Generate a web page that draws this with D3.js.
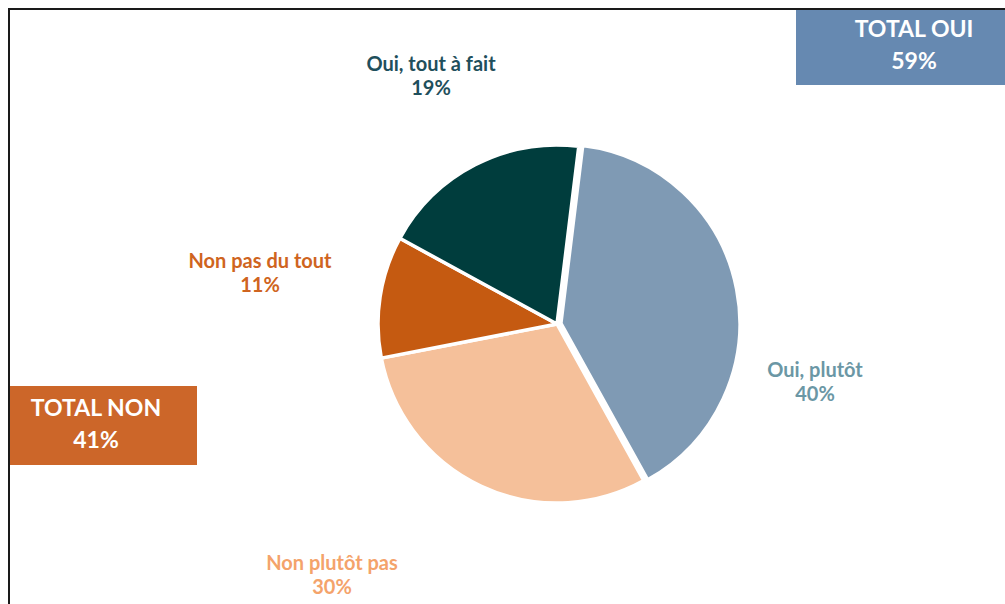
<!DOCTYPE html>
<html><head><meta charset="utf-8">
<script src="https://cdn.jsdelivr.net/npm/d3@7/dist/d3.min.js"></script>
<style>html,body{margin:0;padding:0;background:#fff;overflow:hidden}svg{display:block}</style>
</head><body>
<svg id="c" width="1005" height="604"></svg>
<script>
// ---- data ----
const categories = ["Oui, plutôt", "Non plutôt pas", "Non pas du tout", "Oui, tout à fait"];
const values = [40, 30, 11, 19];
const totalLabels = ["TOTAL OUI", "TOTAL NON"];
const totalValues = [59, 41];

// ---- styles / layout ----
const sliceColors = ["#7f9ab4", "#f5c09a", "#c55a11", "#003d3d"];
const labelColors = ["#6b97a5", "#f4a36b", "#cf6420", "#1f4f5c"];
const labelPos = [[815, 377], [332, 570], [260, 268], [431, 71]];
const startDeg = 7;

const svg = d3.select("#c");
const W = 1005, H = 604;
const cx = 557, cy = 324, R = 179;
const font = "Lato, 'Open Sans', sans-serif";

// frame
svg.append("path").attr("d", `M9,${H} V9 H${W}`).attr("fill","none").attr("stroke","#1a1a1a").attr("stroke-width",2);

const data = categories.map((c,i)=>({cat:c, value:values[i], i}));
const pie = d3.pie().value(d=>d.value).sort(null)
  .startAngle(startDeg*Math.PI/180).endAngle(startDeg*Math.PI/180 + 2*Math.PI);
const arcs = pie(data);
const arc = d3.arc().innerRadius(0).outerRadius(R);

const g = svg.append("g").attr("transform", `translate(${cx},${cy})`);
g.selectAll("path").data(arcs).join("path")
  .attr("d", arc)
  .attr("fill", d=>sliceColors[d.data.i])
  .attr("stroke", "#fff").attr("stroke-width", 3.5).attr("stroke-linejoin","round")
  .attr("transform", d=>{
    if (d.data.i !== 0) return null;
    const a = (d.startAngle + d.endAngle)/2, off = 4;
    return `translate(${off*Math.sin(a)},${-off*Math.cos(a)})`;
  });

// slice labels
const lab = svg.append("g").attr("font-family", font).attr("font-weight", 700).attr("font-size", 20).attr("text-anchor","middle");
data.forEach((d,i)=>{
  const [x,y] = labelPos[i];
  const t = lab.append("text").attr("fill", labelColors[i]);
  t.append("tspan").attr("x", x).attr("y", y).text(d.cat);
  t.append("tspan").attr("x", x).attr("y", y+24).text(d.value + "%");
});

// total boxes
const boxes = [
  {x:796, y:10, w:215, h:75, fill:"#6689b1", tx:914, ty:37},
  {x:10, y:386, w:187, h:79, fill:"#cc6629", tx:96, ty:416}
];
boxes.forEach((b,i)=>{
  svg.append("rect").attr("x",b.x).attr("y",b.y).attr("width",b.w).attr("height",b.h).attr("fill",b.fill);
  const t = svg.append("text").attr("font-family",font).attr("font-weight",700).attr("font-size",23)
    .attr("fill","#fff").attr("text-anchor","middle");
  t.append("tspan").attr("x",b.tx).attr("y",b.ty).text(totalLabels[i]);
  t.append("tspan").attr("x",b.tx).attr("y",b.ty+32).text(totalValues[i]+"%");
});
</script>
</body></html>
